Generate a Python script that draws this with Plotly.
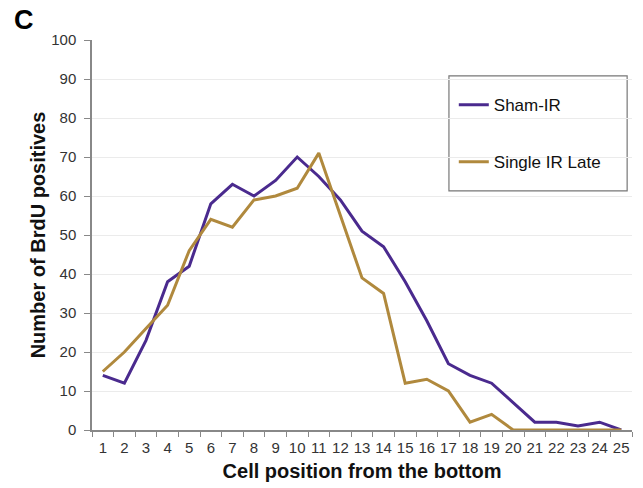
import plotly.graph_objects as go

positions = [str(i) for i in range(1, 26)]
sham_ir = [14, 12, 23, 38, 42, 58, 63, 60, 64, 70, 65, 59, 51, 47, 38, 28, 17, 14, 12, 7, 2, 2, 1, 2, 0]
single_ir_late = [15, 20, 26, 32, 46, 54, 52, 59, 60, 62, 71, 55, 39, 35, 12, 13, 10, 2, 4, 0, 0, 0, 0, 0, 0]
y_ticks = list(range(0, 101, 10))

PURPLE = "#4a2a8e"
GOLD = "#b0893d"

fig = go.Figure()
fig.add_trace(go.Scatter(x=positions, y=sham_ir, mode="lines", name="Sham-IR",
                         line=dict(color=PURPLE, width=3), legendgroup="a"))
fig.add_trace(go.Scatter(x=positions, y=single_ir_late, mode="lines", name="Single IR Late",
                         line=dict(color=GOLD, width=3), legendgroup="b"))

fig.update_layout(
    width=643, height=488,
    margin=dict(l=92, r=11, t=40, b=58),
    paper_bgcolor="white", plot_bgcolor="white",
    font=dict(family="Liberation Sans, Arial, sans-serif", size=15, color="#222"),
    showlegend=True,
    legend=dict(x=0.670, y=0.879, xanchor="left", yanchor="top",
                borderwidth=0, bgcolor="rgba(0,0,0,0)",
                font=dict(size=17, color="#111"),
                tracegroupgap=32, itemwidth=30,
                traceorder="grouped"),
    shapes=[dict(type="rect", xref="paper", yref="paper",
                 x0=0.661, x1=0.991, y0=0.613, y1=0.908,
                 line=dict(color="#777", width=1.2), fillcolor="rgba(0,0,0,0)",
                 layer="below")],
    annotations=[dict(text="<b>C</b>", xref="paper", yref="paper",
                      x=-0.148, y=1.051, xanchor="left", yanchor="middle",
                      showarrow=False, font=dict(size=27, color="#000"))],
)

fig.update_xaxes(type="category", tickson="boundaries", ticks="outside", ticklen=5,
                 range=[-0.5, len(positions) - 0.5],
                 tickcolor="#888", showline=True, linecolor="#888", linewidth=1.5,
                 showgrid=False, tickangle=0, automargin=False, ticklabelstandoff=3,
                 title=dict(text="<b>Cell position from the bottom</b>",
                            font=dict(size=20, color="#111"), standoff=9),
                 tickfont=dict(size=15, color="#333"))
fig.update_yaxes(range=[0, 100], tickvals=y_ticks, ticks="outside", ticklen=6,
                 tickcolor="#888", showline=True, linecolor="#888", linewidth=1.5,
                 showgrid=True, gridcolor="#ebebeb", gridwidth=1, zeroline=False,
                 automargin=False, ticklabelstandoff=5,
                 title=dict(text="<b>Number of BrdU positives</b>",
                            font=dict(size=20, color="#111"), standoff=0),
                 tickfont=dict(size=15, color="#333"))

fig.write_html("out.html", config={"displayModeBar": False},
               post_script="document.body.style.margin='0';")
